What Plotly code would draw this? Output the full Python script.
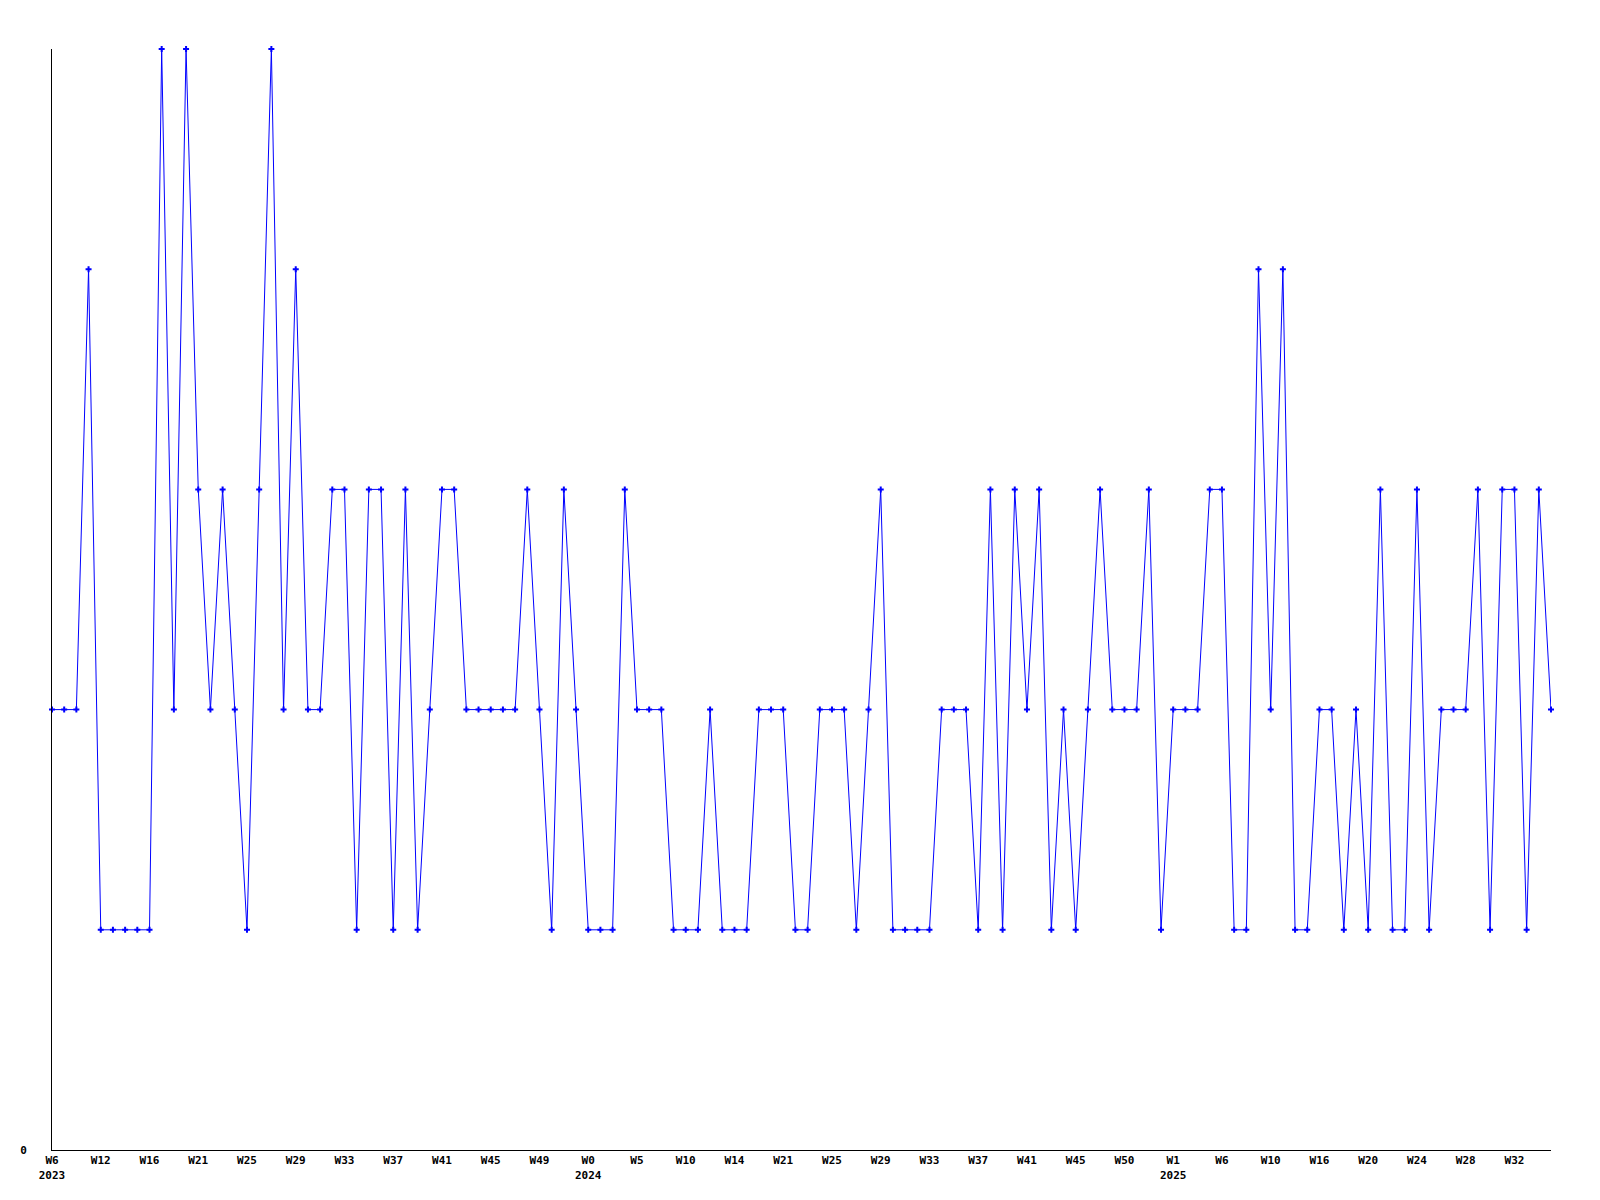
import plotly.graph_objects as go

values = [2, 2, 2, 4, 1, 1, 1, 1, 1, 5,
          2, 5, 3, 2, 3, 2, 1, 3, 5, 2,
          4, 2, 2, 3, 3, 1, 3, 3, 1, 3,
          1, 2, 3, 3, 2, 2, 2, 2, 2, 3,
          2, 1, 3, 2, 1, 1, 1, 3, 2, 2,
          2, 1, 1, 1, 2, 1, 1, 1, 2, 2,
          2, 1, 1, 2, 2, 2, 1, 2, 3, 1,
          1, 1, 1, 2, 2, 2, 1, 3, 1, 3,
          2, 3, 1, 2, 1, 2, 3, 2, 2, 2,
          3, 1, 2, 2, 2, 3, 3, 1, 1, 4,
          2, 4, 1, 1, 2, 2, 1, 2, 1, 3,
          1, 1, 3, 1, 2, 2, 2, 3, 1, 3,
          3, 1, 3, 2]

tick_labels = ["W6<br>2023", "W12", "W16", "W21", "W25", "W29", "W33", "W37",
               "W41", "W45", "W49", "W0<br>2024", "W5", "W10", "W14", "W21",
               "W25", "W29", "W33", "W37", "W41", "W45", "W50", "W1<br>2025",
               "W6", "W10", "W16", "W20", "W24", "W28", "W32"]
tick_step = 4

x = list(range(len(values)))
tickvals = [i * tick_step for i in range(len(tick_labels))]

font = dict(family="DejaVu Sans Mono", size=11, color="black", weight="bold")

fig = go.Figure()
fig.add_trace(go.Scatter(
    x=x, y=values, mode="lines+markers",
    line=dict(color="#0000FF", width=1),
    marker=dict(symbol="cross", size=5, color="#0000FF", line=dict(width=0)),
    cliponaxis=False, showlegend=False,
))

fig.update_layout(
    width=1600, height=1200,
    margin=dict(l=42, r=57, t=41, b=58),
    paper_bgcolor="white", plot_bgcolor="white",
    font=font,
    xaxis=dict(range=[0, len(values) - 1], tickvals=tickvals, ticktext=tick_labels,
               showgrid=False, zeroline=False, showline=True, linecolor="black",
               linewidth=1, ticks="", tickfont=font, tickangle=0),
    yaxis=dict(range=[0, 5], tickvals=[0], ticktext=["0"], showgrid=False,
               zeroline=False, showline=True, linecolor="black", linewidth=1,
               ticks="", tickfont=font, ticklabelstandoff=22),
)

fig.write_html("out.html")
